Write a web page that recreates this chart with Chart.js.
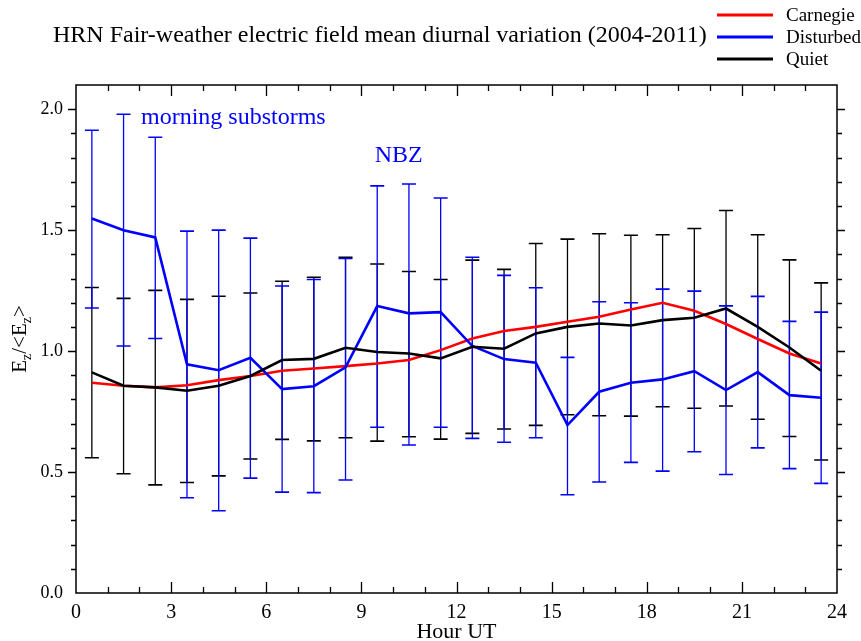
<!DOCTYPE html>
<html>
<head>
<meta charset="utf-8">
<script src="https://cdn.jsdelivr.net/npm/chart.js@4/dist/chart.umd.min.js"></script>
<style>
  html, body { margin: 0; padding: 0; background: #ffffff; }
  #wrap { width: 861px; height: 641px; }
</style>
</head>
<body>
<div id="wrap"><canvas id="c" width="861" height="641"></canvas></div>
<script>
// ---- data ----
const hours = [0.5, 1.5, 2.5, 3.5, 4.5, 5.5, 6.5, 7.5, 8.5, 9.5, 10.5, 11.5,
               12.5, 13.5, 14.5, 15.5, 16.5, 17.5, 18.5, 19.5, 20.5, 21.5, 22.5, 23.5];

const carnegie = [0.869, 0.857, 0.850, 0.859, 0.880, 0.897, 0.919, 0.928, 0.938, 0.949, 0.963, 1.004,
                  1.052, 1.083, 1.100, 1.121, 1.142, 1.172, 1.200, 1.167, 1.112, 1.050, 0.990, 0.949];

const disturbedMean  = [1.548, 1.500, 1.470, 0.945, 0.921, 0.972, 0.843, 0.855, 0.933, 1.186, 1.156, 1.161,
                        1.021, 0.967, 0.952, 0.694, 0.832, 0.869, 0.883, 0.917, 0.839, 0.913, 0.818, 0.807];
const disturbedUpper = [1.913, 1.979, 1.884, 1.496, 1.500, 1.467, 1.269, 1.296, 1.383, 1.683, 1.691, 1.633,
                        1.388, 1.313, 1.262, 0.974, 1.204, 1.200, 1.256, 1.248, 1.187, 1.226, 1.123, 1.161];
const disturbedLower = [1.178, 1.021, 1.052, 0.394, 0.340, 0.475, 0.417, 0.415, 0.467, 0.685, 0.612, 0.685,
                        0.639, 0.623, 0.642, 0.406, 0.459, 0.540, 0.504, 0.584, 0.490, 0.600, 0.514, 0.453];

const quietMean  = [0.912, 0.857, 0.850, 0.836, 0.857, 0.897, 0.963, 0.968, 1.014, 0.996, 0.990, 0.970,
                    1.018, 1.010, 1.073, 1.100, 1.114, 1.106, 1.128, 1.138, 1.176, 1.100, 1.015, 0.919];
const quietUpper = [1.263, 1.218, 1.251, 1.214, 1.227, 1.240, 1.289, 1.305, 1.388, 1.360, 1.329, 1.296,
                    1.376, 1.338, 1.445, 1.463, 1.485, 1.479, 1.481, 1.507, 1.581, 1.481, 1.377, 1.282];
const quietLower = [0.559, 0.493, 0.447, 0.457, 0.484, 0.554, 0.635, 0.629, 0.642, 0.628, 0.646, 0.636,
                    0.660, 0.678, 0.693, 0.737, 0.733, 0.731, 0.770, 0.764, 0.773, 0.718, 0.647, 0.550];

const seriesNames = ['Carnegie', 'Disturbed', 'Quiet'];
const titleText = 'HRN Fair-weather electric field mean diurnal variation (2004-2011)';
const xTitle = 'Hour UT';
const noteMorning = 'morning substorms';
const noteNBZ = 'NBZ';

// ---- styles ----
const RED = '#ff0000', BLUE = '#0000ff', BLACK = '#000000';
const SERIF = '"Liberation Serif", "Times New Roman", serif';

function toXY(ys) { return hours.map((h, i) => ({ x: h, y: ys[i] })); }

const decor = {
  id: 'decor',
  beforeDatasetsDraw(chart) {
    const ctx = chart.ctx, xs = chart.scales.x, ys = chart.scales.y;
    const cap = 7;
    function bars(lo, hi, color) {
      ctx.save();
      ctx.strokeStyle = color;
      hours.forEach((h, i) => {
        const px = xs.getPixelForValue(h);
        const p1 = ys.getPixelForValue(lo[i]);
        const p2 = ys.getPixelForValue(hi[i]);
        ctx.lineWidth = 1.3;
        ctx.beginPath();
        ctx.moveTo(px, p1); ctx.lineTo(px, p2);
        ctx.stroke();
        ctx.lineWidth = 1.6;
        ctx.beginPath();
        ctx.moveTo(px - cap, p1); ctx.lineTo(px + cap, p1);
        ctx.moveTo(px - cap, p2); ctx.lineTo(px + cap, p2);
        ctx.stroke();
      });
      ctx.restore();
    }
    bars(quietLower, quietUpper, BLACK);
    bars(disturbedLower, disturbedUpper, BLUE);
  },
  afterDraw(chart) {
    const ctx = chart.ctx, a = chart.chartArea;
    const xs = chart.scales.x, ys = chart.scales.y;
    ctx.save();
    // frame
    ctx.strokeStyle = BLACK;
    ctx.lineWidth = 1.5;
    ctx.strokeRect(a.left, a.top, a.right - a.left, a.bottom - a.top);
    // x ticks (inward, top and bottom)
    ctx.lineWidth = 1.3;
    ctx.beginPath();
    for (let h = 1; h < 24; h++) {
      const px = Math.round(xs.getPixelForValue(h)) + 0.5;
      const len = (h % 3 === 0) ? 11 : 6;
      ctx.moveTo(px, a.bottom); ctx.lineTo(px, a.bottom - len);
      ctx.moveTo(px, a.top); ctx.lineTo(px, a.top + len);
    }
    // y ticks (outward, left and right)
    for (let k = 1; k <= 20; k++) {
      const v = k / 10;
      const py = Math.round(ys.getPixelForValue(v)) + 0.5;
      const len = (k % 5 === 0) ? 8 : 5;
      ctx.moveTo(a.left, py); ctx.lineTo(a.left - len, py);
      ctx.moveTo(a.right, py); ctx.lineTo(a.right + len, py);
    }
    ctx.stroke();

    // title
    ctx.fillStyle = BLACK;
    ctx.font = '24px ' + SERIF;
    ctx.textAlign = 'left';
    ctx.textBaseline = 'alphabetic';
    ctx.fillText(titleText, 53, 42);

    // legend
    const legColors = [RED, BLUE, BLACK];
    const legY = [15, 37, 59];
    ctx.font = '19px ' + SERIF;
    seriesNames.forEach((n, i) => {
      ctx.strokeStyle = legColors[i];
      ctx.lineWidth = 3;
      ctx.beginPath();
      ctx.moveTo(717, legY[i]); ctx.lineTo(773, legY[i]);
      ctx.stroke();
      ctx.fillStyle = BLACK;
      ctx.fillText(n, 786, legY[i] + 6);
    });

    // annotations
    ctx.fillStyle = BLUE;
    ctx.font = '24px ' + SERIF;
    ctx.fillText(noteMorning, xs.getPixelForValue(2.05), ys.getPixelForValue(1.938));
    ctx.fillText(noteNBZ, xs.getPixelForValue(9.42), ys.getPixelForValue(1.781));

    // x axis title
    ctx.fillStyle = BLACK;
    ctx.font = '22px ' + SERIF;
    ctx.textAlign = 'center';
    ctx.fillText(xTitle, (a.left + a.right) / 2, 638);

    // y axis title E_z/<E_z>, rotated
    ctx.translate(26, 339);
    ctx.rotate(-Math.PI / 2);
    const big = '21px ' + SERIF, small = '14px ' + SERIF;
    const parts = [['E', big, 0], ['z', small, 5], ['/<E', big, 0], ['z', small, 5], ['>', big, 0]];
    let total = 0;
    parts.forEach(p => { ctx.font = p[1]; total += ctx.measureText(p[0]).width; });
    let cx = -total / 2;
    ctx.textAlign = 'left';
    parts.forEach(p => {
      ctx.font = p[1];
      ctx.fillText(p[0], cx, p[2]);
      cx += ctx.measureText(p[0]).width;
    });
    ctx.restore();
  }
};

new Chart(document.getElementById('c'), {
  type: 'line',
  data: {
    datasets: [
      { label: seriesNames[2], data: toXY(quietMean), borderColor: BLACK, borderWidth: 2.6, pointRadius: 0, tension: 0, fill: false },
      { label: seriesNames[1], data: toXY(disturbedMean), borderColor: BLUE, borderWidth: 2.6, pointRadius: 0, tension: 0, fill: false },
      { label: seriesNames[0], data: toXY(carnegie), borderColor: RED, borderWidth: 2.6, pointRadius: 0, tension: 0, fill: false }
    ]
  },
  options: {
    responsive: false,
    animation: false,
    events: [],
    layout: { padding: { left: 0, top: 85, right: 24, bottom: 0 } },
    plugins: { legend: { display: false }, title: { display: false }, tooltip: { enabled: false } },
    scales: {
      x: {
        type: 'linear', min: 0, max: 24,
        grid: { display: false },
        border: { display: false },
        ticks: { stepSize: 3, autoSkip: false, maxRotation: 0, color: BLACK, padding: 0,
                 font: { family: SERIF, size: 20 } },
        afterFit(s) { s.height = 48; }
      },
      y: {
        min: 0, max: 2.1,
        grid: { display: false },
        border: { display: false },
        ticks: { stepSize: 0.5, includeBounds: false, autoSkip: false, color: BLACK, padding: 5,
                 font: { family: SERIF, size: 18 },
                 callback: v => (Math.abs(v * 2 - Math.round(v * 2)) < 1e-6 ? v.toFixed(1) : '') },
        afterFit(s) { s.width = 76; }
      }
    }
  },
  plugins: [decor]
});
</script>
</body>
</html>
